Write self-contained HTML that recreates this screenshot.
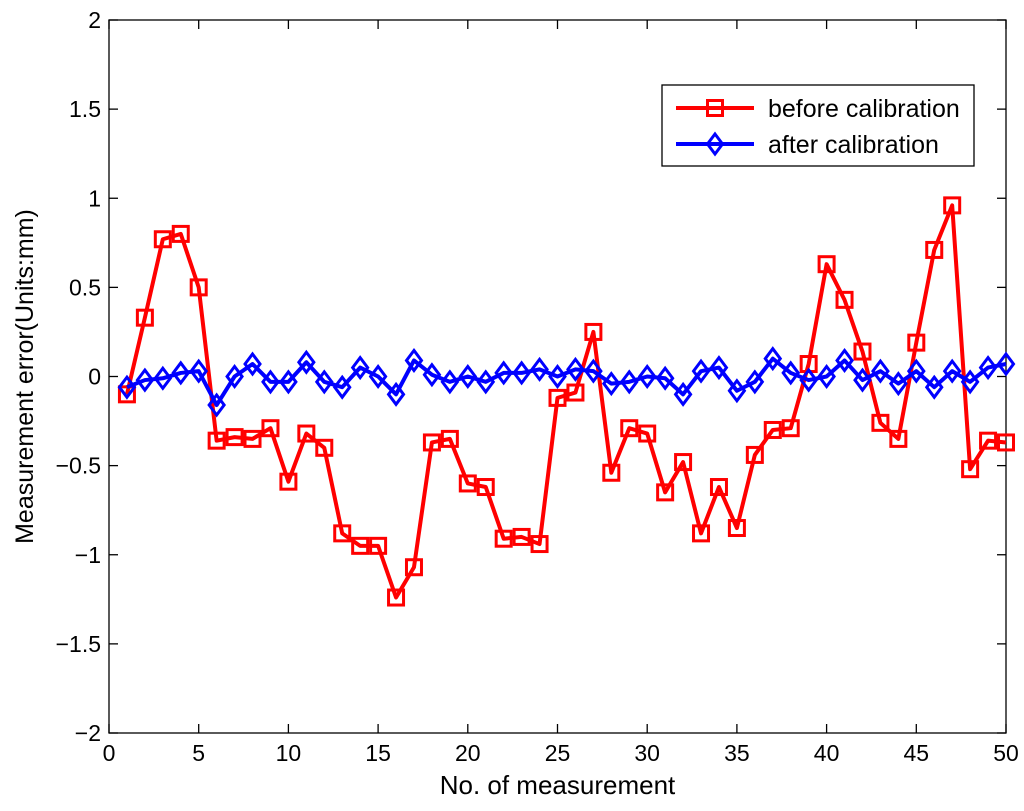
<!DOCTYPE html>
<html><head><meta charset="utf-8">
<style>
html,body{margin:0;padding:0;background:#fff;}
svg text{font-family:"Liberation Sans",sans-serif;fill:#000;}
</style></head>
<body>
<svg id="chart" width="1024" height="806" viewBox="0 0 1024 806" xmlns="http://www.w3.org/2000/svg">
<rect x="0" y="0" width="1024" height="806" fill="#fff"/>
<g id="axes"></g>
<g id="series"></g>
<g id="legend"></g>
</svg>
<script>
const xTicks=[0,5,10,15,20,25,30,35,40,45,50];
const yTicks=[-2,-1.5,-1,-0.5,0,0.5,1,1.5,2];
const yTickLabels=["\u22122","\u22121.5","\u22121","\u22120.5","0","0.5","1","1.5","2"];
const before=[-0.10,0.33,0.77,0.80,0.50,-0.36,-0.34,-0.35,-0.29,-0.59,-0.32,-0.40,-0.88,-0.95,-0.95,-1.24,-1.07,-0.37,-0.35,-0.60,-0.62,-0.91,-0.90,-0.94,-0.12,-0.09,0.25,-0.54,-0.29,-0.32,-0.65,-0.48,-0.88,-0.62,-0.85,-0.44,-0.30,-0.29,0.07,0.63,0.43,0.14,-0.26,-0.35,0.19,0.71,0.96,-0.52,-0.36,-0.37];
const after=[-0.06,-0.02,-0.01,0.02,0.03,-0.16,0.00,0.07,-0.03,-0.03,0.08,-0.03,-0.06,0.05,0.00,-0.10,0.09,0.01,-0.03,0.00,-0.03,0.02,0.02,0.04,0.00,0.04,0.03,-0.04,-0.03,0.00,-0.01,-0.10,0.03,0.05,-0.08,-0.03,0.10,0.02,-0.02,0.00,0.09,-0.02,0.03,-0.04,0.03,-0.06,0.03,-0.03,0.05,0.07];

const NS="http://www.w3.org/2000/svg";
const L=109,R=1006,T=20,B=733;
function sx(v){return L+(v-0)/(50-0)*(R-L);}
function sy(v){return B-(v+2)/4*(B-T);}
function mk(tag,attrs,parent){const e=document.createElementNS(NS,tag);for(const k in attrs)e.setAttribute(k,attrs[k]);parent.appendChild(e);return e;}
const axes=document.getElementById('axes');
const box=mk('rect',{x:L,y:T,width:R-L,height:B-T,fill:'none',stroke:'#000','stroke-width':1.3},axes);


xTicks.forEach(v=>{
  const x=sx(v);
  mk('line',{x1:x,y1:B,x2:x,y2:B-9,stroke:'#000','stroke-width':1.3},axes);
  mk('line',{x1:x,y1:T,x2:x,y2:T+9,stroke:'#000','stroke-width':1.3},axes);
  const t=mk('text',{x:x,y:B+28,'text-anchor':'middle','font-size':23},axes);
  t.textContent=v;
  
  
});
yTicks.forEach((v,i)=>{
  const y=sy(v);
  mk('line',{x1:L,y1:y,x2:L+9,y2:y,stroke:'#000','stroke-width':1.3},axes);
  mk('line',{x1:R,y1:y,x2:R-9,y2:y,stroke:'#000','stroke-width':1.3},axes);
  const t=mk('text',{x:L-8,y:y+8,'text-anchor':'end','font-size':23},axes);
  t.textContent=yTickLabels[i];
  
  
});
const xt=mk('text',{x:(L+R)/2,y:794,'text-anchor':'middle','font-size':26},axes);
xt.textContent='No. of measurement';


const yt=mk('text',{x:0,y:0,'text-anchor':'middle','font-size':25,transform:'translate(33,'+((T+B)/2)+') rotate(-90)'},axes);
yt.textContent='Measurement error(Units:mm)';



const series=document.getElementById('series');
function square(g,x,y){mk('rect',{x:x-7.5,y:y-7.5,width:15,height:15,fill:'none',stroke:'#f00','stroke-width':3},g);}
function diamond(g,x,y){mk('polygon',{points:`${x},${y-10} ${x+7.5},${y} ${x},${y+10} ${x-7.5},${y}`,fill:'none',stroke:'#00f','stroke-width':3},g);}
function drawSeries(data,color,marker,name){
  const g=mk('g',{},series);
  
  
  const pts=data.map((v,i)=>sx(i+1)+','+sy(v)).join(' ');
  mk('polyline',{points:pts,fill:'none',stroke:color,'stroke-width':4,'stroke-linejoin':'round'},g);
  data.forEach((v,i)=>marker(g,sx(i+1),sy(v)));
}
drawSeries(before,'#f00',square,'before-calibration-series');
drawSeries(after,'#00f',diamond,'after-calibration-series');

const lg=document.getElementById('legend');
mk('rect',{x:662,y:85,width:312,height:81,fill:'#fff',stroke:'#000','stroke-width':1.3},lg);
const e1=mk('g',{},lg);


mk('line',{x1:676,y1:108,x2:754,y2:108,stroke:'#f00','stroke-width':4},e1);
square(e1,715,108);
mk('text',{x:768,y:117,'font-size':25},e1).textContent='before calibration';
const e2=mk('g',{},lg);


mk('line',{x1:676,y1:144,x2:754,y2:144,stroke:'#00f','stroke-width':4},e2);
diamond(e2,715,144);
mk('text',{x:768,y:153,'font-size':25},e2).textContent='after calibration';
</script>
</body></html>
